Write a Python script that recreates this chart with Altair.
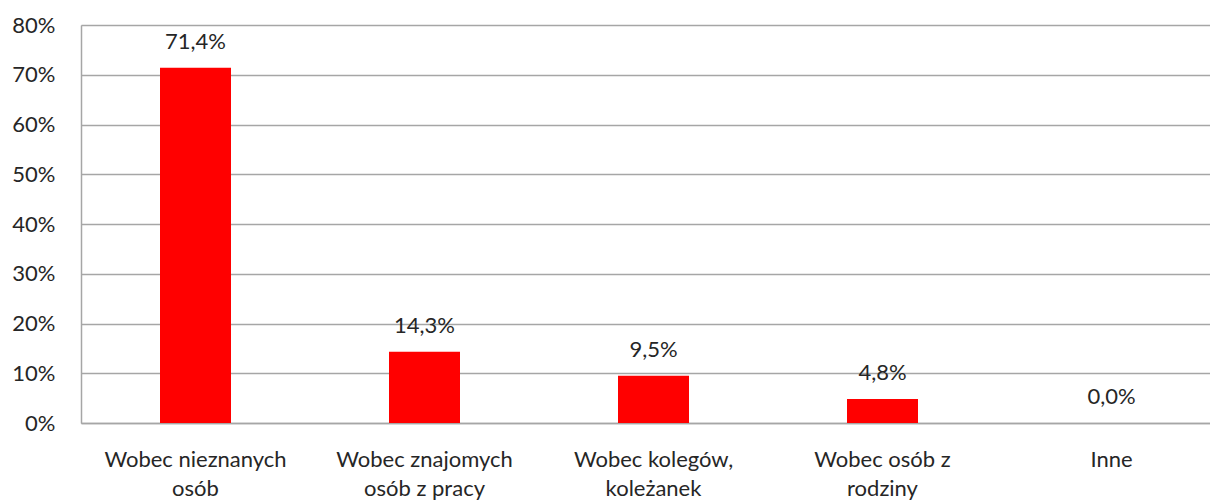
import altair as alt
import pandas as pd

categories = [
    "Wobec nieznanych\nosób",
    "Wobec znajomych\nosób z pracy",
    "Wobec kolegów,\nkoleżanek",
    "Wobec osób z\nrodziny",
    "Inne",
]
values = [71.4, 14.3, 9.5, 4.8, 0.0]
y_ticks = [0, 10, 20, 30, 40, 50, 60, 70, 80]

df = pd.DataFrame({"kategoria": categories, "wartosc": values})

FONT = "Lato"
TEXT_COLOR = "#262626"
FS = 22

x_enc = alt.X(
    "kategoria:N",
    sort=categories,
    scale=alt.Scale(paddingInner=0, paddingOuter=0),
    axis=alt.Axis(
        title=None,
        labelAngle=0,
        labelExpr="split(datum.label, '\\n')",
        labelFont=FONT,
        labelFontSize=FS,
        labelColor=TEXT_COLOR,
        labelPadding=36,
        labelLineHeight=29,
        labelBaseline="middle",
        labelLimit=0,
        ticks=False,
        domainColor="#a6a6a6",
        domainWidth=1.5,
        grid=False,
    ),
)

y_enc = alt.Y(
    "wartosc:Q",
    scale=alt.Scale(domain=[0, 80], nice=False),
    axis=alt.Axis(
        title=None,
        values=y_ticks,
        labelExpr="datum.value + '%'",
        labelFont=FONT,
        labelFontSize=FS,
        labelColor=TEXT_COLOR,
        labelPadding=26,
        ticks=False,
        domainColor="#a6a6a6",
        domainWidth=1.5,
        gridColor="#a6a6a6",
        gridWidth=1.5,
    ),
)

bars = alt.Chart(df).mark_bar(color="#ff0000", size=71).encode(x=x_enc, y=y_enc)

labels = (
    alt.Chart(df)
    .transform_calculate(
        lab="replace(format(datum.wartosc, '.1f'), '.', ',') + '%'"
    )
    .mark_text(font=FONT, fontSize=FS, color=TEXT_COLOR, baseline="middle", dy=-26)
    .encode(x=x_enc, y=y_enc, text="lab:N")
)

chart = (
    alt.layer(bars, labels)
    .properties(
        width=1145,
        height=398,
        padding={"left": 73, "top": 17, "right": -16, "bottom": 79},
        autosize=alt.AutoSizeParams(type="none"),
    )
    .configure_view(stroke=None)
    .configure(background="white")
)

chart.save("out.html", embed_options={"renderer": "svg", "actions": False})
